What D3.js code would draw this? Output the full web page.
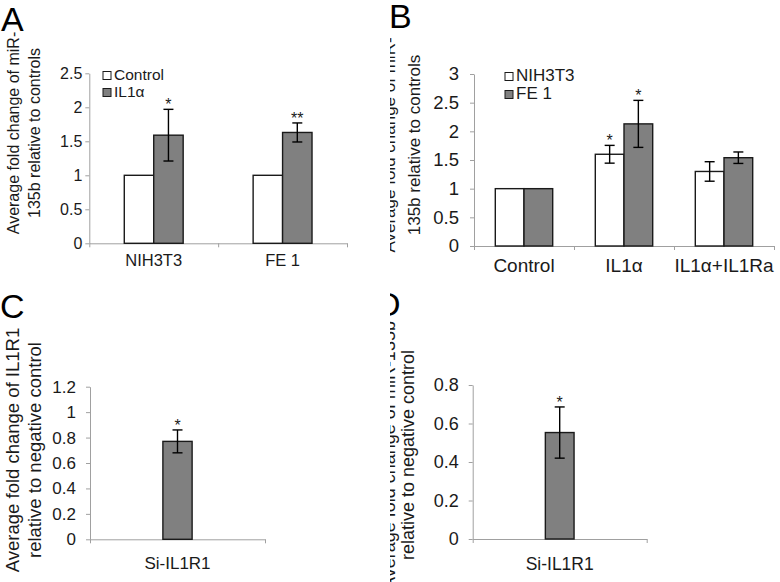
<!DOCTYPE html>
<html>
<head>
<meta charset="utf-8">
<script src="https://cdn.jsdelivr.net/npm/d3@7"></script>
<style>
  html, body { margin: 0; padding: 0; background: #fff; }
  svg { display: block; font-family: "Liberation Sans", Arial, sans-serif; }
</style>
</head>
<body>
<svg id="chart" width="780" height="582"></svg>
<script>
// ---------------- DATA ----------------
// Panel A
const aCategories = ["NIH3T3", "FE 1"];
const aSeries = ["Control", "IL1α"];
const aControl = [1, 1];
const aControlErr = [0, 0];
const aIL1a = [1.59, 1.63];
const aIL1aErr = [0.38, 0.14];
const aSigControl = ["", ""];
const aSigIL1a = ["*", "**"];
const aTicks = [0, 0.5, 1, 1.5, 2, 2.5];
const aTitle = ["Average fold change of miR-", "135b relative to controls"];

// Panel B
const bCategories = ["Control", "IL1α", "IL1α+IL1Ra"];
const bSeries = ["NIH3T3", "FE 1"];
const bNIH = [1, 1.6, 1.3];
const bNIHErr = [0, 0.155, 0.17];
const bFE1 = [1, 2.13, 1.54];
const bFE1Err = [0, 0.41, 0.1];
const bSigNIH = ["", "*", ""];
const bSigFE1 = ["", "*", ""];
const bTicks = [0, 0.5, 1, 1.5, 2, 2.5, 3];
const bTitle = ["Average fold change of miR-", "135b relative to controls"];

// Panel C
const cCategories = ["Si-IL1R1"];
const cValues = [0.77];
const cErr = [0.09];
const cSig = ["*"];
const cTicks = [0, 0.2, 0.4, 0.6, 0.8, 1, 1.2];
const cTitle = ["Average fold change of IL1R1", "relative to negative control"];

// Panel D
const dCategories = ["Si-IL1R1"];
const dValues = [0.553];
const dErr = [0.133];
const dSig = ["*"];
const dTicks = [0, 0.2, 0.4, 0.6, 0.8];
const dTitle = ["Average fold change of miR-135b", "relative to negative control"];

// ---------------- STYLE ----------------
const WHITE = "#ffffff";
const GRAY = "#808080";
const BAR_STROKE = "#1a1a1a";
const AXIS_COLOR = "#a0a0a0";
const TEXT_COLOR = "#1a1a1a";

const svg = d3.select("#chart");
const defs = svg.append("defs");
defs.append("clipPath").attr("id", "clipRight")
  .append("rect").attr("x", 390).attr("y", 0).attr("width", 390).attr("height", 582);

function drawPanel(cfg) {
  const g = svg.append("g");
  if (cfg.clip) g.attr("clip-path", "url(#clipRight)");

  const y = d3.scaleLinear().domain([0, cfg.yMax]).range([cfg.yBottom, cfg.yTop]);
  const n = cfg.categories.length;
  const x = d3.scaleBand().domain(cfg.categories).range([cfg.x0, cfg.x1])
    .paddingInner(cfg.pad).paddingOuter(cfg.pad / 2);
  const xs = d3.scaleBand().domain(cfg.series.map(s => s.name)).range([0, x.bandwidth()]);

  // Y axis
  const yAxis = d3.axisLeft(y).tickValues(cfg.ticks).tickFormat(d => String(d))
    .tickSizeInner(4).tickSizeOuter(0).tickPadding(cfg.tickPad);
  const ya = g.append("g").attr("transform", `translate(${cfg.x0},0)`).call(yAxis);
  ya.selectAll("path, line").attr("stroke", AXIS_COLOR).attr("stroke-width", 1);
  ya.selectAll("text").attr("fill", TEXT_COLOR).style("font-size", cfg.tickFont + "px")
    .style("font-family", "Liberation Sans, Arial, sans-serif");

  // X axis (category boundaries as ticks)
  const xb = d3.scaleLinear().domain([0, n]).range([cfg.x0, cfg.x1]);
  const xAxis = d3.axisBottom(xb).tickValues(d3.range(0, n + 1)).tickFormat("")
    .tickSizeInner(4).tickSizeOuter(0);
  const xa = g.append("g").attr("transform", `translate(0,${cfg.yBottom})`).call(xAxis);
  xa.selectAll("path, line").attr("stroke", AXIS_COLOR).attr("stroke-width", 1);

  // category labels
  g.selectAll(".cat").data(cfg.categories).enter().append("text")
    .attr("x", d => x(d) + x.bandwidth() / 2)
    .attr("y", cfg.catY)
    .attr("text-anchor", "middle")
    .attr("fill", TEXT_COLOR)
    .style("font-size", cfg.catFont + "px")
    .text(d => d);

  // bars
  cfg.series.forEach(s => {
    const recs = cfg.categories.map((c, i) => ({ c, v: s.values[i], e: s.err[i], sig: s.sig[i] }));
    g.selectAll(null).data(recs).enter().append("rect")
      .attr("x", d => x(d.c) + xs(s.name))
      .attr("y", d => y(d.v))
      .attr("width", xs.bandwidth())
      .attr("height", d => y(0) - y(d.v))
      .attr("fill", s.color)
      .attr("stroke", BAR_STROKE)
      .attr("stroke-width", 1.4);

    const withErr = recs.filter(d => d.e > 0);
    const cx = d => x(d.c) + xs(s.name) + xs.bandwidth() / 2;
    const eg = g.selectAll(null).data(withErr).enter().append("g");
    eg.append("line").attr("x1", cx).attr("x2", cx)
      .attr("y1", d => y(d.v + d.e)).attr("y2", d => y(d.v - d.e))
      .attr("stroke", "#000").attr("stroke-width", 1.4);
    eg.append("line").attr("x1", d => cx(d) - 5).attr("x2", d => cx(d) + 5)
      .attr("y1", d => y(d.v + d.e)).attr("y2", d => y(d.v + d.e))
      .attr("stroke", "#000").attr("stroke-width", 1.4);
    eg.append("line").attr("x1", d => cx(d) - 5).attr("x2", d => cx(d) + 5)
      .attr("y1", d => y(d.v - d.e)).attr("y2", d => y(d.v - d.e))
      .attr("stroke", "#000").attr("stroke-width", 1.4);

    g.selectAll(null).data(recs.filter(d => d.sig)).enter().append("text")
      .attr("x", cx)
      .attr("y", d => y(d.v + d.e) + 1)
      .attr("text-anchor", "middle")
      .attr("fill", TEXT_COLOR)
      .style("font-size", "16px")
      .text(d => d.sig);
  });

  // legend
  if (cfg.legend) {
    cfg.series.forEach((s, i) => {
      const ly = cfg.legend.y + i * cfg.legend.dy;
      g.append("rect").attr("x", cfg.legend.x).attr("y", ly - 8.5)
        .attr("width", 8).attr("height", 8)
        .attr("fill", s.color).attr("stroke", BAR_STROKE).attr("stroke-width", 1);
      g.append("text").attr("x", cfg.legend.x + 11).attr("y", ly)
        .attr("fill", TEXT_COLOR).style("font-size", cfg.legend.font + "px")
        .text(s.name);
    });
  }

  // y title (two rotated lines)
  cfg.title.forEach((t, i) => {
    g.append("text")
      .attr("transform", `translate(${cfg.titleX[i]},${cfg.titleCY}) rotate(-90)`)
      .attr("text-anchor", "middle")
      .attr("fill", TEXT_COLOR)
      .style("font-size", cfg.titleFont + "px")
      .text(t);
  });

  // panel letter
  g.append("text").attr("x", cfg.letterX).attr("y", cfg.letterY)
    .attr("fill", "#000").style("font-size", "34px").text(cfg.letter);
}

drawPanel({
  letter: "A", letterX: 1, letterY: 31,
  categories: aCategories,
  series: [
    { name: aSeries[0], values: aControl, err: aControlErr, sig: aSigControl, color: WHITE },
    { name: aSeries[1], values: aIL1a, err: aIL1aErr, sig: aSigIL1a, color: GRAY }
  ],
  ticks: aTicks, yMax: 2.5, yTop: 73.3, yBottom: 243.3,
  x0: 89.3, x1: 347, pad: 0.543,
  tickPad: 3, tickFont: 16, catFont: 16.5, catY: 266,
  legend: { x: 103, y: 80, dy: 17, font: 15.5 },
  title: aTitle, titleX: [19, 40], titleCY: 133, titleFont: 16
});

drawPanel({
  letter: "B", letterX: 389, letterY: 28, clip: true,
  categories: bCategories,
  series: [
    { name: bSeries[0], values: bNIH, err: bNIHErr, sig: bSigNIH, color: WHITE },
    { name: bSeries[1], values: bFE1, err: bFE1Err, sig: bSigFE1, color: GRAY }
  ],
  ticks: bTicks, yMax: 3, yTop: 74, yBottom: 246,
  x0: 474, x1: 774, pad: 0.426,
  tickPad: 11, tickFont: 18.5, catFont: 19, catY: 272,
  legend: { x: 505, y: 81, dy: 18, font: 17 },
  title: bTitle, titleX: [395, 420], titleCY: 145, titleFont: 17
});

drawPanel({
  letter: "C", letterX: 0, letterY: 318,
  categories: cCategories,
  series: [
    { name: "Si-IL1R1", values: cValues, err: cErr, sig: cSig, color: GRAY }
  ],
  ticks: cTicks, yMax: 1.2, yTop: 386.7, yBottom: 539.3,
  x0: 90, x1: 265, pad: 0.833,
  tickPad: 10, tickFont: 17, catFont: 17, catY: 569,
  legend: null,
  title: cTitle, titleX: [18.5, 41], titleCY: 450, titleFont: 18.5
});

drawPanel({
  letter: "D", letterX: 376, letterY: 316, clip: true,
  categories: dCategories,
  series: [
    { name: "Si-IL1R1", values: dValues, err: dErr, sig: dSig, color: GRAY }
  ],
  ticks: dTicks, yMax: 0.8, yTop: 385, yBottom: 539,
  x0: 472.7, x1: 646.7, pad: 0.835,
  tickPad: 10, tickFont: 18, catFont: 17.5, catY: 570,
  legend: null,
  title: dTitle, titleX: [395, 414], titleCY: 455, titleFont: 18
});
</script>
</body>
</html>
